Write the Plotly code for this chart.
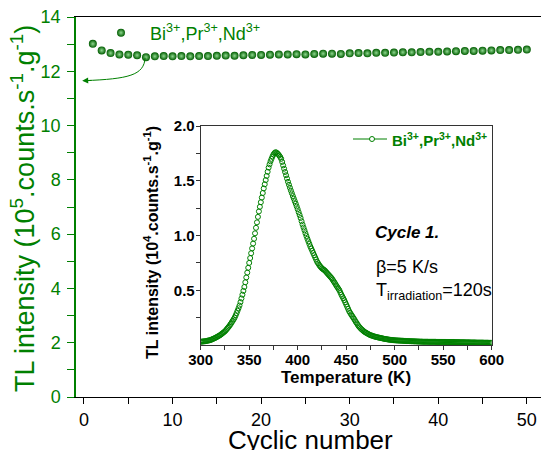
import plotly.graph_objects as go

GREEN = '#008000'
FONT = 'Arial, Liberation Sans, sans-serif'

# ---- main series: TL intensity vs cyclic number ----
cycle = list(range(1, 51))
intensity = [13.01, 12.77, 12.67, 12.62, 12.61, 12.59, 12.52, 12.55, 12.56, 12.55,
             12.56, 12.55, 12.56, 12.56, 12.57, 12.58, 12.57, 12.59, 12.60, 12.60,
             12.61, 12.62, 12.62, 12.63, 12.62, 12.64, 12.65, 12.65, 12.64, 12.66,
             12.67, 12.66, 12.68, 12.68, 12.69, 12.70, 12.70, 12.71, 12.72, 12.72,
             12.73, 12.74, 12.75, 12.75, 12.76, 12.77, 12.78, 12.78, 12.79, 12.80]

# ---- inset: glow curve (cycle 1) ----
temperature = list(range(300, 601))
tl = [0.030, 0.031, 0.032, 0.033, 0.034, 0.035, 0.037, 0.039, 0.041, 0.043,
      0.045, 0.049, 0.053, 0.057, 0.061, 0.065, 0.070, 0.075, 0.080, 0.085,
      0.090, 0.097, 0.104, 0.111, 0.118, 0.125, 0.135, 0.146, 0.157, 0.168,
      0.180, 0.193, 0.207, 0.221, 0.235, 0.250, 0.270, 0.291, 0.313, 0.336,
      0.360, 0.392, 0.425, 0.459, 0.494, 0.530, 0.573, 0.617, 0.661, 0.705,
      0.750, 0.794, 0.838, 0.882, 0.926, 0.970, 1.020, 1.070, 1.120, 1.170,
      1.220, 1.262, 1.304, 1.346, 1.388, 1.430, 1.468, 1.506, 1.544, 1.582,
      1.620, 1.650, 1.678, 1.700, 1.722, 1.740, 1.752, 1.760, 1.758, 1.750,
      1.742, 1.730, 1.717, 1.700, 1.672, 1.640, 1.610, 1.580, 1.550, 1.520,
      1.490, 1.463, 1.436, 1.410, 1.385, 1.360, 1.337, 1.313, 1.290, 1.265,
      1.240, 1.213, 1.187, 1.160, 1.130, 1.100, 1.073, 1.047, 1.020, 0.995,
      0.970, 0.947, 0.923, 0.900, 0.880, 0.860, 0.840, 0.820, 0.800, 0.780,
      0.760, 0.747, 0.733, 0.720, 0.710, 0.700, 0.693, 0.687, 0.680, 0.670,
      0.660, 0.650, 0.640, 0.630, 0.620, 0.610, 0.597, 0.583, 0.570, 0.555,
      0.540, 0.527, 0.513, 0.500, 0.480, 0.460, 0.443, 0.427, 0.410, 0.390,
      0.370, 0.350, 0.330, 0.310, 0.295, 0.280, 0.267, 0.253, 0.240, 0.225,
      0.210, 0.197, 0.183, 0.170, 0.160, 0.150, 0.142, 0.134, 0.126, 0.120,
      0.114, 0.109, 0.104, 0.099, 0.094, 0.090, 0.087, 0.084, 0.081, 0.078,
      0.075, 0.073, 0.071, 0.069, 0.067, 0.065, 0.063, 0.061, 0.059, 0.057,
      0.055, 0.054, 0.052, 0.051, 0.049, 0.048, 0.047, 0.046, 0.045, 0.044,
      0.043, 0.042, 0.042, 0.041, 0.041, 0.040, 0.040, 0.039, 0.039, 0.038,
      0.037, 0.037, 0.036, 0.036, 0.036, 0.035, 0.035, 0.034, 0.034, 0.034,
      0.033, 0.033, 0.033, 0.032, 0.032, 0.032, 0.031, 0.031, 0.031, 0.030,
      0.030, 0.030, 0.030, 0.030, 0.030, 0.029, 0.029, 0.029, 0.029, 0.029,
      0.029, 0.029, 0.029, 0.028, 0.028, 0.028, 0.028, 0.028, 0.028, 0.028,
      0.028, 0.028, 0.028, 0.027, 0.027, 0.027, 0.027, 0.027, 0.027, 0.027,
      0.027, 0.027, 0.026, 0.026, 0.026, 0.026, 0.026, 0.025, 0.025, 0.025,
      0.025, 0.025, 0.025, 0.024, 0.024, 0.024, 0.024, 0.024, 0.023, 0.023,
      0.023, 0.023, 0.023, 0.023, 0.022, 0.022, 0.022, 0.022, 0.022, 0.022,
      0.022, 0.022, 0.021, 0.021, 0.021, 0.021, 0.021, 0.020, 0.020, 0.020,
      0.020]

main_ticks = [0, 10, 20, 30, 40, 50]
inset_yticks = [0.5, 1.0, 1.5, 2.0]
inset_yticktext = ['0.5', '1.0', '1.5', '2.0']
series_label = 'Bi<sup>3+</sup>,Pr<sup>3+</sup>,Nd<sup>3+</sup>'

W, H = 541, 450
L, R, T, B = 76, 0, 17, 53
PW, PH = W - L - R, H - T - B


def px(xp):
    return (xp - L) / PW


def py(yp):
    return (H - B - yp) / PH


fig = go.Figure()
fig.add_trace(go.Scatter(
    x=cycle, y=intensity, mode='markers', name=series_label,
    marker=dict(size=8, color='#005c00',
                gradient=dict(type='radial', color='#8fd88f'),
                line=dict(width=0)),
    xaxis='x', yaxis='y', showlegend=True))
fig.add_trace(go.Scatter(
    x=temperature, y=tl, mode='markers', name=series_label,
    marker=dict(symbol='circle-open', size=5, color=GREEN, line=dict(width=1)),
    xaxis='x2', yaxis='y2', showlegend=False))

tickfont_bold = dict(family=FONT, size=15, color='black', weight='bold')

fig.update_layout(
    width=W, height=H, autosize=False,
    margin=dict(l=L, r=R, t=T, b=B, pad=0, autoexpand=False),
    paper_bgcolor='white', plot_bgcolor='white',
    font=dict(family=FONT),
    showlegend=True,
    legend=dict(x=px(92), y=py(33), xanchor='left', yanchor='middle',
                bgcolor='rgba(0,0,0,0)', borderwidth=0,
                font=dict(family=FONT, size=18, color=GREEN),
                itemwidth=48),
    xaxis=dict(domain=[0, 1], anchor='y', range=[-0.9, 51.6], automargin=False,
               tickvals=main_ticks, ticks='outside', ticklen=6, tickcolor='black',
               showline=True, linecolor='black', linewidth=1, mirror=True,
               showgrid=False, zeroline=False, ticklabelstandoff=0,
               tickfont=dict(family=FONT, size=18, color='black'),
               minor=dict(dtick=5, tick0=0, ticks='outside', ticklen=6, tickcolor='black')),
    yaxis=dict(domain=[0, 1], anchor='x', range=[0, 14], dtick=2, automargin=False,
               ticks='outside', ticklen=7, tickcolor=GREEN,
               showline=True, linecolor=GREEN, linewidth=1.5,
               showgrid=False, zeroline=False, ticklabelstandoff=3,
               tickfont=dict(family=FONT, size=18, color=GREEN),
               minor=dict(dtick=1, ticks='outside', ticklen=7, tickcolor=GREEN)),
    xaxis2=dict(domain=[px(200.7), px(491.7)], anchor='y2', range=[300, 600],
                automargin=False,
                dtick=50, ticks='outside', ticklen=4, tickcolor='#333',
                showline=True, linecolor='#333', linewidth=1, mirror=True,
                showgrid=False, zeroline=False, tickfont=tickfont_bold,
                ticklabelstandoff=-3,
                minor=dict(dtick=25, ticks='outside', ticklen=4, tickcolor='#333')),
    yaxis2=dict(domain=[py(345), py(126)], anchor='x2', range=[0, 2.0],
                automargin=False,
                tickvals=inset_yticks, ticktext=inset_yticktext,
                ticks='outside', ticklen=4, tickcolor='#333',
                showline=True, linecolor='#333', linewidth=1, mirror=True,
                showgrid=False, zeroline=False, tickfont=tickfont_bold,
                ticklabelstandoff=-2,
                minor=dict(tickvals=[0.25, 0.75, 1.25, 1.75], ticks='outside',
                           ticklen=4, tickcolor='#333')),
)

annotations = [
    # main titles
    dict(text='Cyclic number', x=px(310), y=py(440), xref='paper', yref='paper',
         xanchor='center', yanchor='middle', showarrow=False,
         font=dict(family=FONT, size=26, color='black')),
    dict(text='TL intensity (10<sup>5</sup>.counts.s<sup>-1</sup>.g<sup>-1</sup>)',
         x=px(23), y=py(209), xref='paper', yref='paper', textangle=-90,
         xanchor='center', yanchor='middle', showarrow=False,
         font=dict(family=FONT, size=27, color=GREEN)),
    # inset titles
    dict(text='<b>Temperature (K)</b>', x=px(346), y=py(377), xref='paper', yref='paper',
         xanchor='center', yanchor='middle', showarrow=False,
         font=dict(family=FONT, size=17, color='black')),
    dict(text='<b>TL intensity (10<sup>4</sup>.counts.s<sup>-1</sup>.g<sup>-1</sup>)</b>',
         x=px(151), y=py(243), xref='paper', yref='paper', textangle=-90,
         xanchor='center', yanchor='middle', showarrow=False,
         font=dict(family=FONT, size=16, color='black')),
    # inset texts
    dict(text='<b><i>Cycle 1.</i></b>', x=px(407), y=py(232), xref='paper', yref='paper',
         xanchor='center', yanchor='middle', showarrow=False,
         font=dict(family=FONT, size=17, color='black')),
    dict(text='\u03b2=5 K/s', x=px(374), y=py(267), xref='paper', yref='paper',
         xanchor='left', yanchor='middle', showarrow=False,
         font=dict(family=FONT, size=18, color='black')),
    dict(text='T<sub>irradiation</sub>=120s', x=px(374), y=py(292), xref='paper', yref='paper',
         xanchor='left', yanchor='middle', showarrow=False,
         font=dict(family=FONT, size=18, color='black')),
    # inset legend text
    dict(text='<b>' + series_label + '</b>', x=px(390), y=py(139), xref='paper', yref='paper',
         xanchor='left', yanchor='middle', showarrow=False,
         font=dict(family=FONT, size=15, color=GREEN)),
    # arrow head of the curved arrow
    dict(x=-0.2, y=11.65, ax=1.0, ay=11.665, xref='x', yref='y', axref='x', ayref='y',
         text='', showarrow=True, arrowhead=2, arrowsize=1.2, arrowwidth=1,
         arrowcolor=GREEN),
]
fig.update_layout(annotations=annotations)

shapes = [
    # curved arrow pointing to the left axis
    dict(type='path', xref='x', yref='y',
         path='M 6.9,12.5 C 6.8,11.85 5.0,11.72 0.1,11.655',
         line=dict(color=GREEN, width=1)),
    # inset legend symbol
    dict(type='line', xref='paper', yref='paper', x0=px(353), x1=px(387), y0=py(139), y1=py(139),
         line=dict(color=GREEN, width=1)),
    dict(type='circle', xref='paper', yref='paper', x0=px(369.5), x1=px(374.5),
         y0=py(141.5), y1=py(136.5), fillcolor='white', line=dict(color=GREEN, width=1)),
]
fig.update_layout(shapes=shapes)

fig.write_html('out.html',
               config={'responsive': False, 'displayModeBar': False},
               post_script="document.body.style.margin='0px';")
